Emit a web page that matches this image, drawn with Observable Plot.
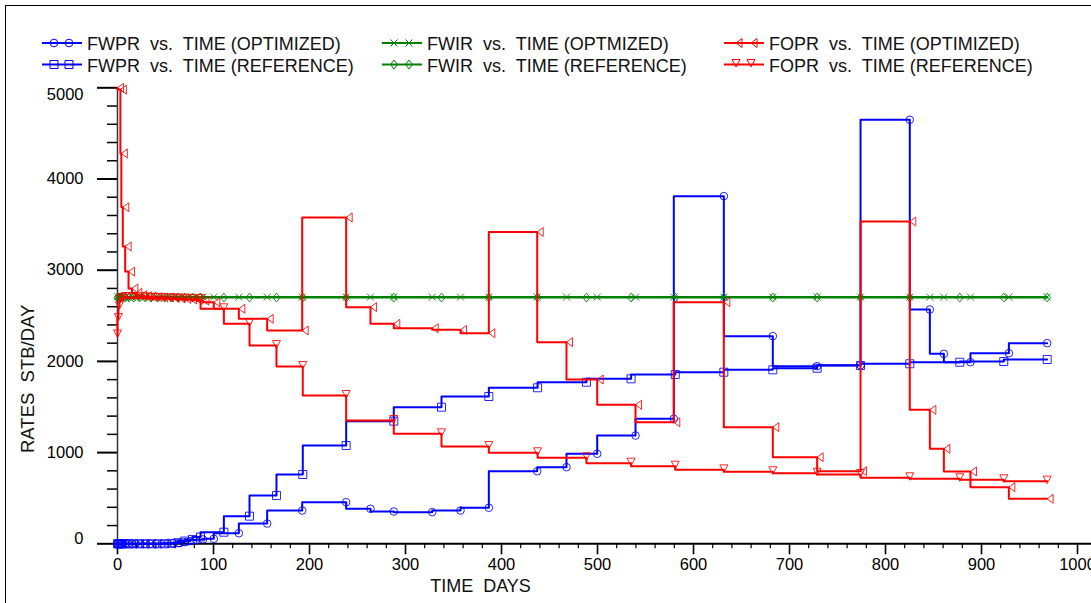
<!DOCTYPE html>
<html><head><meta charset="utf-8">
<script src="https://cdn.jsdelivr.net/npm/d3@7"></script>
<script src="https://cdn.jsdelivr.net/npm/@observablehq/plot@0.6"></script>
<style>
html,body{margin:0;padding:0;background:#fff;}
body{width:1091px;height:603px;position:relative;overflow:hidden;font-family:"Liberation Sans",Arial,sans-serif;}
#frame{position:absolute;left:5px;top:5px;right:-4px;bottom:-4px;border-left:1px solid #000;border-top:1px solid #000;pointer-events:none;}
svg text{white-space:pre;}
#legend svg,#chart svg{display:block;}
</style></head><body>
<div id="legend"></div><div id="chart"></div><div id="frame"></div>
<script>
// ---------- data ----------
const optTime = [0, 3, 4, 5.5, 8, 11.5, 15, 19, 24, 29, 34, 40, 46, 52, 58, 64, 70, 76, 82, 89,
  100.3, 126.4, 155.9, 192.4, 238.2, 263.5, 287.8, 327.8, 357.3, 386.8,
  437.2, 467.7, 499.7, 539.6, 579.5, 631.6, 682.6, 728.8, 774, 825.3,
  846.2, 860.8, 888.5, 928.5, 968.4];
const optFOPR = [5000, 4980, 4280, 3690, 3260, 2985, 2800, 2750, 2725, 2715,
  2710, 2705, 2700, 2700, 2695, 2690, 2685, 2680, 2675, 2665,
  2649, 2577, 2467, 2339, 3578, 2595, 2412, 2364, 2346, 2309,
  3420, 2211, 1801, 1524, 1333, 2649, 1279, 950, 796, 3534,
  1469, 1042, 793, 621, 493];
const optFWPR = [0, 0, 0, 0, 0, 0, 0, 0, 0, 0,
  0, 0, 0, 3, 6, 10, 18, 30, 42, 48,
  55, 116, 222, 365, 456, 384, 354, 347, 365, 395,
  796, 840, 987, 1187, 1371, 3812, 2277, 1948, 1958, 4649,
  2569, 2083, 1991, 2090, 2200];
const optFWIR = [2710, 2705, 2705, 2705, 2705, 2705, 2705, 2705, 2705, 2705,
  2705, 2705, 2705, 2705, 2705, 2705, 2705, 2705, 2705, 2705,
  2705, 2705, 2705, 2705, 2705, 2705, 2705, 2705, 2705, 2705,
  2705, 2705, 2705, 2705, 2705, 2705, 2705, 2705, 2705, 2705,
  2705, 2705, 2705, 2705, 2705];

const refTime = [0, 1, 2, 3, 5, 8, 12, 17, 23, 29,
  35, 42, 49, 56, 63, 70, 78, 86.5, 110.8, 137.5,
  165.6, 193, 238.2, 287.8, 337.5, 386.8, 437.6, 488.5, 535, 581,
  631.6, 682.6, 728.8, 774, 825.3, 877.4, 923.2, 968.4];
const refFOPR = [2290, 2470, 2600, 2670, 2690, 2700, 2700, 2700, 2698, 2695,
  2693, 2690, 2688, 2686, 2684, 2682, 2680, 2680, 2577, 2412,
  2174, 1944, 1626, 1352, 1206, 1067, 998, 943, 884, 851,
  811, 790, 774, 760, 724, 713, 702, 687];
const refFWPR = [0, 0, 0, 0, 0, 0, 0, 0, 0, 0,
  0, 0, 0, 5, 12, 30, 48, 75, 127, 303,
  530, 760, 1078, 1345, 1498, 1615, 1711, 1772, 1809, 1856,
  1882, 1908, 1925, 1955, 1974, 1991, 1999, 2021];
const refFWIR = [2700, 2700, 2700, 2700, 2700, 2700, 2700, 2700, 2700, 2700,
  2700, 2700, 2700, 2700, 2700, 2700, 2700, 2700, 2700, 2700,
  2700, 2700, 2700, 2700, 2700, 2700, 2700, 2700, 2700, 2700,
  2700, 2700, 2700, 2700, 2700, 2700, 2700, 2700];

const xTicks = [0, 100, 200, 300, 400, 500, 600, 700, 800, 900, 1000];
const yTicks = [0, 1000, 2000, 3000, 4000, 5000];
const yTicksInner = [1000, 2000, 3000, 4000];
const legendLabels = [
  "FWPR  vs.  TIME (OPTIMIZED)", "FWPR  vs.  TIME (REFERENCE)",
  "FWIR  vs.  TIME (OPTMIZED)", "FWIR  vs.  TIME (REFERENCE)",
  "FOPR  vs.  TIME (OPTIMIZED)", "FOPR  vs.  TIME (REFERENCE)"];
const xTitle = "TIME  DAYS";
const yTitle = "RATES  STB/DAY";

// ---------- styles ----------
const BLUE = "#0000ff", GREEN = "#008000", RED = "#ff0000";
const symCircle = {draw(c){c.moveTo(3.8,0);c.arc(0,0,3.8,0,2*Math.PI);}};
const symSquare = {draw(c){c.moveTo(-4,-4);c.lineTo(4,-4);c.lineTo(4,4);c.lineTo(-4,4);c.closePath();}};
const symX = {draw(c){c.moveTo(-3.5,-3.5);c.lineTo(3.5,3.5);c.moveTo(3.5,-3.5);c.lineTo(-3.5,3.5);}};
const symDiamond = {draw(c){c.moveTo(0,-4.5);c.lineTo(3.5,0);c.lineTo(0,4.5);c.lineTo(-3.5,0);c.closePath();}};
const symLeft = {draw(c){c.moveTo(0,0);c.lineTo(6,-4.5);c.lineTo(6,4.5);c.closePath();}};
const symDown = {draw(c){c.moveTo(-4,-5);c.lineTo(4,-5);c.lineTo(0,2.5);c.closePath();}};

const optRows = optTime.map((t, i) => ({t, fwpr: optFWPR[i], fwir: optFWIR[i], fopr: optFOPR[i]}));
const refRows = refTime.map((t, i) => ({t, fwpr: refFWPR[i], fwir: refFWIR[i], fopr: refFOPR[i]}));

const series = [
  {rows: optRows, key: "fwpr", color: BLUE, sym: symCircle},
  {rows: refRows, key: "fwpr", color: BLUE, sym: symSquare},
  {rows: optRows, key: "fwir", color: GREEN, sym: symX},
  {rows: refRows, key: "fwir", color: GREEN, sym: symDiamond},
  {rows: optRows, key: "fopr", color: RED, sym: symLeft},
  {rows: refRows, key: "fopr", color: RED, sym: symDown}
];

// ---------- legend (above the chart) ----------
const lg = d3.select("#legend").append("svg").attr("width", 1091).attr("height", 80);
const colLine = [42, 382, 724], colText = [87, 427, 769], rowLine = [43, 64.5], rowBase = [50, 71.5];
series.forEach((s, i) => {
  const col = Math.floor(i / 2), row = i % 2;
  const x0 = colLine[col], y = rowLine[row];
  lg.append("line").attr("x1", x0).attr("x2", x0 + 40).attr("y1", y).attr("y2", y)
    .attr("stroke", s.color).attr("stroke-width", 2);
  [x0 + 12, x0 + 27].forEach(mx => {
    lg.append("path").attr("d", d3.symbol(s.sym)()).attr("transform", `translate(${mx},${y})`)
      .attr("fill", "none").attr("stroke", s.color).attr("stroke-width", 1);
  });
  lg.append("text").attr("x", colText[col]).attr("y", rowBase[row]).text(legendLabels[i])
    .attr("font-size", 18).attr("fill", "#111").attr("font-family", "Liberation Sans, Arial, sans-serif");
});

// ---------- chart ----------
const yMinor = d3.range(200, 5000, 200).filter(v => v % 1000 !== 0);
const xMinor = d3.range(20, 1000, 20).filter(v => v % 100 !== 0);
const fmt = d => String(d);

const marks = [
  Plot.axisY({ticks: yMinor, tickSize: 10, tickFormat: () => "", label: null, strokeWidth: 1.5}),
  Plot.axisY({ticks: yTicks, tickSize: 20, tickFormat: () => "", label: null, strokeWidth: 2}),
  Plot.axisY({ticks: yTicksInner, tickSize: 0, tickPadding: 34, tickFormat: fmt, label: null, fontSize: 16.5}),
  Plot.axisY({ticks: [yTicks[5]], tickSize: 0, tickPadding: 34, tickFormat: fmt, label: null, fontSize: 16.5, dy: 6.5}),
  Plot.axisY({ticks: [yTicks[0]], tickSize: 0, tickPadding: 34, tickFormat: fmt, label: null, fontSize: 16.5, dy: -5}),
  Plot.axisX({ticks: xMinor, tickSize: 5, tickFormat: () => "", label: null, strokeWidth: 1.2}),
  Plot.axisX({ticks: xTicks, tickSize: 11, tickPadding: 3, tickFormat: fmt, label: null, fontSize: 16.5, strokeWidth: 1.6}),
  Plot.ruleY([0], {stroke: "#000", strokeWidth: 2}),
  Plot.ruleX([0], {stroke: "#333", strokeWidth: 1.5}),
  Plot.text([yTitle], {text: d => d, frameAnchor: "left", rotate: -90, dx: -89, dy: 63, fontSize: 18.5, textAnchor: "middle", lineAnchor: "middle", fill: "#111"}),
  Plot.text([xTitle], {text: d => d, frameAnchor: "bottom", dx: -124, dy: 42.7, fontSize: 18, textAnchor: "middle", lineAnchor: "middle", fill: "#111"})
];
series.forEach(s => {
  marks.push(Plot.line(s.rows, {x: "t", y: s.key, curve: "step-before", stroke: s.color, strokeWidth: 2}));
  marks.push(Plot.dot(s.rows, {x: "t", y: s.key, symbol: s.sym, r: 4, stroke: s.color, strokeWidth: 1, fill: "none", strokeOpacity: 0.85}));
});

const chart = Plot.plot({
  width: 1091, height: 523,
  marginTop: 7.3, marginBottom: 59.7, marginLeft: 117, marginRight: 0,
  x: {domain: [0, 1014.58], axis: null},
  y: {domain: [0, 5000], axis: null},
  style: {fontFamily: "Liberation Sans, Arial, sans-serif", fontSize: "16.5px", background: "transparent", color: "#000"},
  marks
});
document.getElementById("chart").appendChild(chart);
</script></body></html>
